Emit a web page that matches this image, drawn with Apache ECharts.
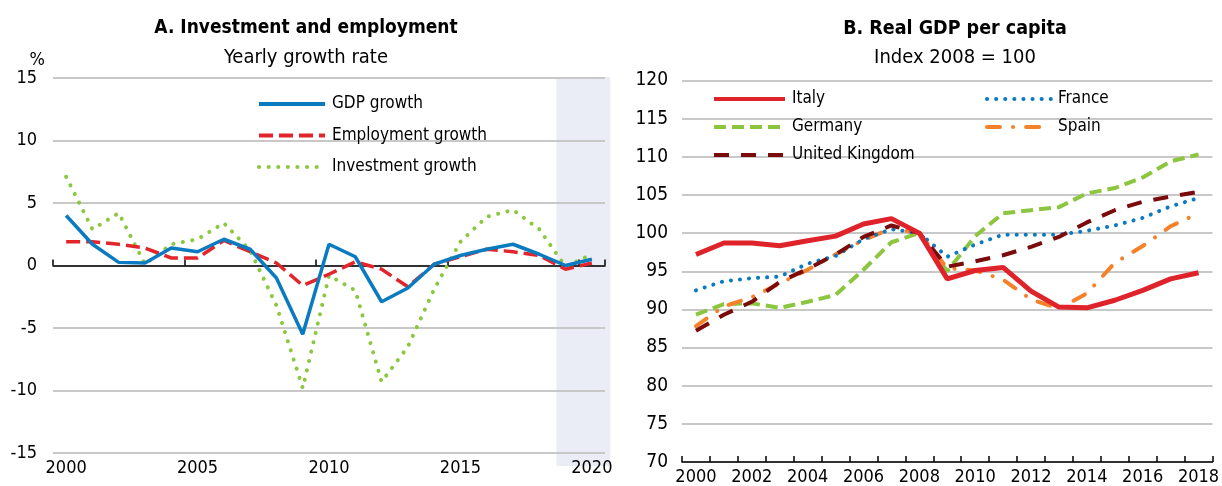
<!DOCTYPE html>
<html>
<head>
<meta charset="utf-8">
<script src="https://cdn.jsdelivr.net/npm/echarts@6/dist/echarts.min.js"></script>
<style>
html,body{margin:0;padding:0;background:#fff;}
#c{width:1222px;height:486px;}
</style>
</head>
<body>
<div id="c"></div>
<script>
// ---------- Panel A data ----------
const yearsA = ['2000','2001','2002','2003','2004','2005','2006','2007','2008','2009','2010',
                '2011','2012','2013','2014','2015','2016','2017','2018','2019','2020'];
const gdpGrowth        = [4.0, 1.7, 0.25, 0.2, 1.4, 1.1, 2.1, 1.3, -1.0, -5.5, 1.7, 0.7, -2.9, -1.8, 0.1, 0.8, 1.3, 1.7, 0.9, 0.0, 0.5];
const employmentGrowth = [1.9, 1.9, 1.7, 1.4, 0.6, 0.6, 2.0, 1.1, 0.2, -1.6, -0.7, 0.3, -0.3, -1.7, 0.1, 0.7, 1.3, 1.1, 0.8, -0.3, 0.2];
const investmentGrowth = [7.1, 2.9, 4.2, 0.1, 1.7, 2.1, 3.4, 1.2, -3.2, -9.8, -0.8, -2.0, -9.3, -6.5, -1.9, 1.9, 3.9, 4.45, 2.9, -0.1, 0.9];
const projectionStart = '2019';

// ---------- Panel B data ----------
const yearsB = ['2000','2001','2002','2003','2004','2005','2006','2007','2008','2009',
                '2010','2011','2012','2013','2014','2015','2016','2017','2018'];
const italy   = [97.2, 98.7, 98.7, 98.35, 99.0, 99.6, 101.2, 101.9, 100, 94.0, 95.1, 95.5, 92.4, 90.3, 90.2, 91.2, 92.5, 94.0, 94.8];
const france  = [92.5, 93.7, 94.1, 94.3, 96.0, 97.0, 99.2, 100.5, 100, 96.9, 98.5, 99.8, 99.8, 99.8, 100.3, 101.0, 102.0, 103.5, 104.6];
const germany = [89.3, 90.7, 90.8, 90.2, 91.0, 91.9, 95.2, 98.8, 100, 95.0, 99.6, 102.6, 103.0, 103.4, 105.2, 105.9, 107.3, 109.4, 110.3];
const spain   = [87.8, 90.4, 91.6, 93.4, 95.2, 97.2, 99.1, 100.6, 100, 95.4, 95.1, 93.9, 91.3, 90.1, 92.1, 96.1, 98.3, 100.9, 102.6];
const uk      = [87.2, 89.3, 91.0, 93.6, 95.3, 97.2, 99.5, 101.0, 100, 95.6, 96.3, 97.1, 98.2, 99.5, 101.4, 103.0, 104.1, 104.8, 105.4];

const FONT = "'Liberation Sans Narrow', 'Arial Narrow', 'DejaVu Sans Condensed', 'Liberation Sans', sans-serif";
const TXT = '#000';
const GRIDC = '#c8c8c8';

const chart = echarts.init(document.getElementById('c'), null, {renderer: 'canvas'});

const legendText = {fontFamily: FONT, fontSize: 17, color: TXT, lineHeight: 20, padding: [0, 0, 0, 2]};
const option = {
  animation: false,
  backgroundColor: '#fff',
  textStyle: {fontFamily: FONT, color: TXT},
  title: [
    {text: 'A. Investment and employment', left: 301, top: 14, textAlign: 'center',
     textStyle: {fontFamily: FONT, fontWeight: 'bold', fontSize: 19, color: TXT}},
    {text: 'Yearly growth rate', left: 301, top: 43, textAlign: 'center',
     textStyle: {fontFamily: FONT, fontWeight: 'normal', fontSize: 20, color: TXT}},
    {text: 'B. Real GDP per capita', left: 950, top: 14, textAlign: 'center',
     textStyle: {fontFamily: FONT, fontWeight: 'bold', fontSize: 19.5, color: TXT}},
    {text: 'Index 2008 = 100', left: 950, top: 43, textAlign: 'center',
     textStyle: {fontFamily: FONT, fontWeight: 'normal', fontSize: 20, color: TXT}}
  ],
  grid: [
    {left: 53, top: 78, width: 552, height: 375},
    {left: 682, top: 80.5, width: 536, height: 382}
  ],
  legend: [
    {data: ['GDP growth', 'Employment growth', 'Investment growth'], orient: 'vertical',
     left: 252, top: 89, itemWidth: 66, itemHeight: 14, itemGap: 11.5,
     itemStyle: {opacity: 0}, lineStyle: {width: 4},
     textStyle: legendText},
    {data: ['Italy', 'Germany', 'United Kingdom'], orient: 'vertical',
     left: 707, top: 84, itemWidth: 71, itemHeight: 14, itemGap: 8,
     itemStyle: {opacity: 0}, lineStyle: {width: 4},
     textStyle: legendText},
    {data: ['France', 'Spain'], orient: 'vertical',
     left: 980, top: 84, itemWidth: 64, itemHeight: 14, itemGap: 8,
     itemStyle: {opacity: 0}, lineStyle: {width: 4},
     textStyle: legendText}
  ],
  xAxis: [
    // Panel A: label axis at bottom
    {type: 'category', gridIndex: 0, data: yearsA, boundaryGap: true, position: 'bottom',
     axisLine: {show: false, onZero: false}, axisTick: {show: false},
     axisLabel: {interval: 4, fontFamily: FONT, fontSize: 18, color: TXT, margin: 6}},
    // Panel A: zero line with ticks
    {type: 'category', gridIndex: 0, data: yearsA, boundaryGap: true, position: 'top',
     axisLine: {show: true, onZero: true, lineStyle: {color: '#000', width: 1.5}},
     axisTick: {show: true, interval: 4, inside: false, length: 6, lineStyle: {color: '#000', width: 1.5}},
     axisLabel: {show: false}},
    // Panel B
    {type: 'category', gridIndex: 1, data: yearsB, boundaryGap: true, position: 'bottom',
     axisLine: {show: true, onZero: false, lineStyle: {color: '#000', width: 1.5}},
     axisTick: {show: true, interval: 0, inside: true, length: 6, lineStyle: {color: '#000', width: 1.5}},
     axisLabel: {interval: 1, fontFamily: FONT, fontSize: 18, color: TXT, margin: 6}}
  ],
  yAxis: [
    {type: 'value', gridIndex: 0, min: -15, max: 15, interval: 5,
     name: '%', nameLocation: 'end', nameGap: 8,
     nameTextStyle: {fontFamily: FONT, fontSize: 18, color: TXT, align: 'right', padding: [0, 8, 0, 0]},
     axisLine: {show: false}, axisTick: {show: false},
     axisLabel: {fontFamily: FONT, fontSize: 18, color: TXT, margin: 16},
     splitLine: {lineStyle: {color: GRIDC, width: 2}}},
    {type: 'value', gridIndex: 1, min: 70, max: 120, interval: 5,
     axisLine: {show: false}, axisTick: {show: false},
     axisLabel: {fontFamily: FONT, fontSize: 19, color: TXT, margin: 14},
     splitLine: {lineStyle: {color: GRIDC, width: 2}}}
  ],
  series: [
    {name: 'Investment growth', type: 'line', xAxisIndex: 0, yAxisIndex: 0, data: investmentGrowth,
     symbol: 'none', z: 3, color: '#8cc83f',
     lineStyle: {color: '#8cc83f', width: 4, type: [0.1, 9.5], cap: 'round'}},
    {name: 'Employment growth', type: 'line', xAxisIndex: 0, yAxisIndex: 0, data: employmentGrowth,
     symbol: 'none', z: 4, color: '#e2252b',
     lineStyle: {color: '#e2252b', width: 3.5, type: [14, 6]}},
    {name: 'GDP growth', type: 'line', xAxisIndex: 0, yAxisIndex: 0, data: gdpGrowth,
     symbol: 'none', z: 5, color: '#0b7bc1',
     lineStyle: {color: '#0b7bc1', width: 3.5}},

    {name: 'Germany', type: 'line', xAxisIndex: 2, yAxisIndex: 1, data: germany,
     symbol: 'none', z: 3, color: '#8cc63f',
     lineStyle: {color: '#8cc63f', width: 4, type: [12, 6]}},
    {name: 'Spain', type: 'line', xAxisIndex: 2, yAxisIndex: 1, data: spain,
     symbol: 'none', z: 4, color: '#f5822a',
     lineStyle: {color: '#f5822a', width: 4, type: [13, 13, 0.1, 13], cap: 'round'}},
    {name: 'France', type: 'line', xAxisIndex: 2, yAxisIndex: 1, data: france,
     symbol: 'none', z: 5, color: '#0a7ac1',
     lineStyle: {color: '#0a7ac1', width: 4, type: [0.1, 9], cap: 'round'}},
    {name: 'United Kingdom', type: 'line', xAxisIndex: 2, yAxisIndex: 1, data: uk,
     symbol: 'none', z: 6, color: '#7b0a0a',
     lineStyle: {color: '#7b0a0a', width: 4, type: [15, 12]}},
    {name: 'Italy', type: 'line', xAxisIndex: 2, yAxisIndex: 1, data: italy,
     symbol: 'none', z: 7, color: '#df232a',
     lineStyle: {color: '#df232a', width: 5}}
  ]
};
chart.setOption(option);

// Projection shading (panel A), placed through the axis scale
(function () {
  const i0 = yearsA.indexOf(projectionStart);
  const xa = chart.convertToPixel({xAxisIndex: 0}, i0);
  const xb = chart.convertToPixel({xAxisIndex: 0}, i0 + 1);
  const step = xb - xa;
  const xStart = xa - 0.35 * step;
  const xEnd = chart.convertToPixel({xAxisIndex: 0}, yearsA.length - 1) + 0.7 * step;
  const yTop = chart.convertToPixel({yAxisIndex: 0}, 15) - 1;
  const yBot = chart.convertToPixel({yAxisIndex: 0}, -15) + 13;
  chart.setOption({
    graphic: [{type: 'rect', z: -10, silent: true,
      shape: {x: xStart, y: yTop, width: xEnd - xStart, height: yBot - yTop},
      style: {fill: '#eaedf6'}}]
  });
})();
</script>
</body>
</html>
